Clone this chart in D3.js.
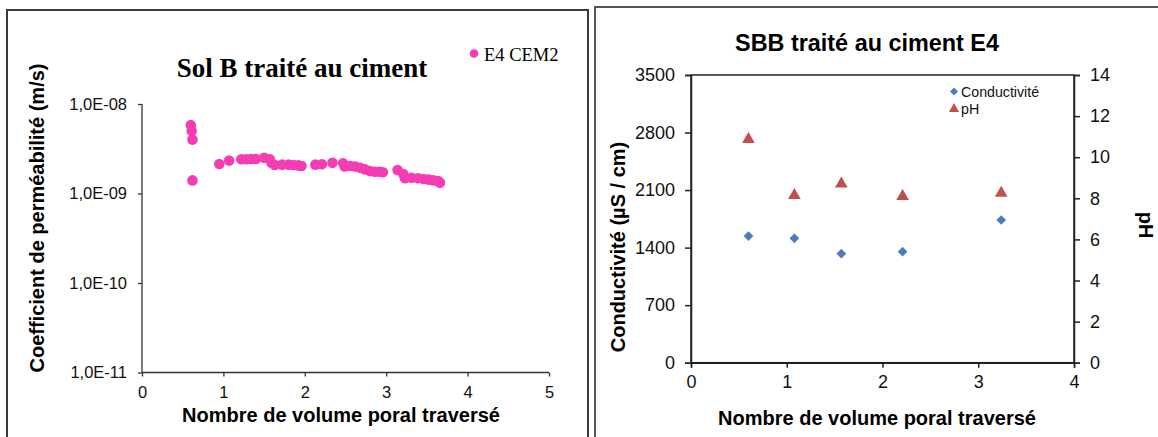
<!DOCTYPE html>
<html><head><meta charset="utf-8">
<script src="https://cdn.jsdelivr.net/npm/d3@7/dist/d3.min.js"></script>
<style>body{margin:0;background:#fff}svg{display:block}</style>
</head><body>
<script>
// ---- Left chart data (permeability, log scale) ----
const permX = [0.60,0.61,0.62,0.62,0.95,1.07,1.22,1.28,1.34,1.40,1.50,1.57,1.59,1.63,1.72,1.80,1.86,1.92,1.96,2.13,2.21,2.34,2.47,2.49,2.56,2.62,2.68,2.74,2.80,2.86,2.92,2.96,3.14,3.21,3.23,3.31,3.39,3.46,3.52,3.58,3.64,3.66];
const permK = [5.8e-9,5.0e-9,4.0e-9,1.4e-9,2.14e-9,2.33e-9,2.41e-9,2.41e-9,2.43e-9,2.43e-9,2.51e-9,2.41e-9,2.21e-9,2.08e-9,2.10e-9,2.10e-9,2.08e-9,2.06e-9,2.03e-9,2.10e-9,2.12e-9,2.20e-9,2.18e-9,2.00e-9,2.03e-9,2.00e-9,1.94e-9,1.86e-9,1.78e-9,1.75e-9,1.75e-9,1.73e-9,1.83e-9,1.65e-9,1.48e-9,1.50e-9,1.48e-9,1.45e-9,1.43e-9,1.40e-9,1.38e-9,1.32e-9];
const permYTicks = [1e-11,1e-10,1e-9,1e-8];
const permYLabels = ["1,0E-11","1,0E-10","1,0E-09","1,0E-08"];
const permXTicks = [0,1,2,3,4,5];
const permSeries = "E4 CEM2";

// ---- Right chart data (conductivity / pH) ----
const condX = [0.60,1.08,1.57,2.21,3.24];
const condVals = [1541,1513,1326,1351,1736];
const phVals = [10.87,8.15,8.70,8.10,8.25];
const condTicks = [0,700,1400,2100,2800,3500];
const phTicks = [0,2,4,6,8,10,12,14];
const rightXTicks = [0,1,2,3,4];
const rightSeries = ["Conductivité","pH"];

const W = 1158, H = 437;
const svg = d3.select("body").append("svg").attr("width",W).attr("height",H);
const sans = "'Liberation Sans', Arial, sans-serif";
const serif = "'Liberation Serif', 'Times New Roman', serif";
const fmtInt = d3.format("d");

// frames
svg.append("rect").attr("x",7).attr("y",10).attr("width",581).attr("height",440)
  .attr("fill","none").attr("stroke","#3a3a3a").attr("stroke-width",2);
svg.append("rect").attr("x",595).attr("y",7).attr("width",580).attr("height",440)
  .attr("fill","none").attr("stroke","#555").attr("stroke-width",2);

// ================= LEFT CHART =================
{
  const x = d3.scaleLinear().domain([0,5]).range([142,549]);
  const y = d3.scaleLog().domain([1e-11,1e-8]).range([372.5,104]);
  const g = svg.append("g");
  const ya = g.append("g").attr("transform","translate(142,0)")
    .call(d3.axisLeft(y).tickValues(permYTicks).tickFormat((d,i)=>permYLabels[i]).tickSize(4).tickPadding(11));
  const xa = g.append("g").attr("transform","translate(0,372.5)")
    .call(d3.axisBottom(x).tickValues(permXTicks).tickFormat(fmtInt).tickSize(4).tickPadding(10));
  [ya,xa].forEach(a=>{
    a.select(".domain").attr("stroke","#333").attr("stroke-width",1.3);
    a.selectAll(".tick line").attr("stroke","#333").attr("stroke-width",1.3);
    a.selectAll(".tick text").attr("font-family",sans).attr("font-size",16.5).attr("fill","#111");
  });
  ya.select(".domain").attr("d","M0,104V372.5");
  xa.select(".domain").attr("d","M142,0H549");
  g.selectAll("circle.pt").data(permX).join("circle").attr("class","pt")
    .attr("cx",(d)=>x(d)).attr("cy",(d,i)=>y(permK[i])).attr("r",5.3).attr("fill","#F53CB5");
  g.append("text").attr("x",302).attr("y",77).attr("text-anchor","middle")
    .attr("font-family",serif).attr("font-weight","bold").attr("font-size",27).text("Sol B traité au ciment");
  g.append("circle").attr("cx",474).attr("cy",53.5).attr("r",4.3).attr("fill","#F53CB5");
  g.append("text").attr("x",484).attr("y",60.5).attr("font-family",serif).attr("font-size",18.5).text(permSeries);
  g.append("text").attr("transform","translate(44,218) rotate(-90)").attr("text-anchor","middle")
    .attr("font-family",sans).attr("font-weight","bold").attr("font-size",20).text("Coefficient de perméabilité  (m/s)");
  g.append("text").attr("x",341).attr("y",422).attr("text-anchor","middle")
    .attr("font-family",sans).attr("font-weight","bold").attr("font-size",20).text("Nombre de volume poral traversé");
}

// ================= RIGHT CHART =================
{
  const x = d3.scaleLinear().domain([0,4]).range([691,1074]);
  const yc = d3.scaleLinear().domain([0,3500]).range([362.7,75]);
  const yp = d3.scaleLinear().domain([0,14]).range([362.7,75]);
  const g = svg.append("g");
  g.append("rect").attr("x",691).attr("y",75).attr("width",383).attr("height",287.7)
    .attr("fill","none").attr("stroke","#222").attr("stroke-width",1.5);
  const la = g.append("g").attr("transform","translate(691,0)")
    .call(d3.axisLeft(yc).tickValues(condTicks).tickFormat(fmtInt).tickSize(6).tickPadding(10));
  const ra = g.append("g").attr("transform","translate(1074,0)")
    .call(d3.axisRight(yp).tickValues(phTicks).tickFormat(fmtInt).tickSize(6).tickPadding(10));
  const ba = g.append("g").attr("transform","translate(0,362.7)")
    .call(d3.axisBottom(x).tickValues(rightXTicks).tickFormat(fmtInt).tickSize(5).tickPadding(8));
  [la,ra,ba].forEach(a=>{
    a.select(".domain").attr("stroke","#222").attr("stroke-width",1.5);
    a.selectAll(".tick line").attr("stroke","#222").attr("stroke-width",1.5);
    a.selectAll(".tick text").attr("font-family",sans).attr("font-size",18).attr("fill","#111");
  });
  const diamond = d3.symbol().type(d3.symbolDiamond2).size(60);
  const tri = d3.symbol().type(d3.symbolTriangle).size(70);
  g.selectAll("path.c").data(condX).join("path").attr("class","c")
    .attr("transform",(d,i)=>`translate(${x(d)},${yc(condVals[i])})`).attr("d",diamond).attr("fill","#4A7EBB");
  g.selectAll("path.p").data(condX).join("path").attr("class","p")
    .attr("transform",(d,i)=>`translate(${x(d)},${yp(phVals[i])})`).attr("d",tri).attr("fill","#C0504D");
  // legend
  g.append("path").attr("transform","translate(954,91.5)").attr("d",d3.symbol().type(d3.symbolDiamond2).size(40)).attr("fill","#4A7EBB");
  g.append("path").attr("transform","translate(954,109)").attr("d",d3.symbol().type(d3.symbolTriangle).size(45)).attr("fill","#C0504D");
  g.append("text").attr("x",961).attr("y",97).attr("font-family",sans).attr("font-size",14.2).attr("fill","#111").text(rightSeries[0]);
  g.append("text").attr("x",961).attr("y",114).attr("font-family",sans).attr("font-size",14.2).attr("fill","#111").text(rightSeries[1]);
  g.append("text").attr("x",867).attr("y",51).attr("text-anchor","middle")
    .attr("font-family",sans).attr("font-weight","bold").attr("font-size",23.4).text("SBB traité au ciment E4");
  g.append("text").attr("transform","translate(625,247) rotate(-90)").attr("text-anchor","middle")
    .attr("font-family",sans).attr("font-weight","bold").attr("font-size",20).text("Conductivité (µS / cm)");
  g.append("text").attr("transform","translate(1139,225) rotate(90)").attr("text-anchor","middle")
    .attr("font-family",sans).attr("font-weight","bold").attr("font-size",20).text("pH");
  g.append("text").attr("x",877).attr("y",425).attr("text-anchor","middle")
    .attr("font-family",sans).attr("font-weight","bold").attr("font-size",20).text("Nombre de volume poral traversé");
}
</script>
</body></html>
